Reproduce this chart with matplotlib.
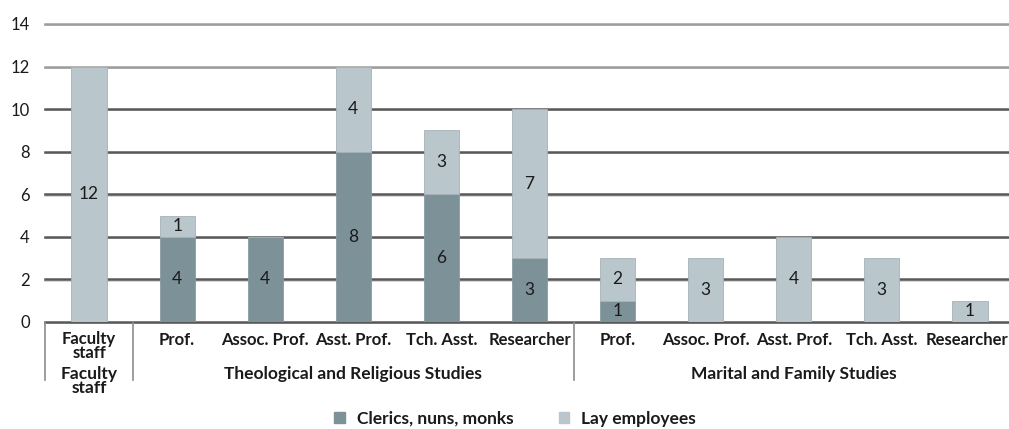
import numpy as np
import matplotlib
matplotlib.use("Agg")
import matplotlib.pyplot as plt
from matplotlib.transforms import blended_transform_factory
from matplotlib.patches import Patch

# categories and values
categories = ["Faculty\nstaff", "Prof.", "Assoc. Prof.", "Asst. Prof.", "Tch. Asst.", "Researcher",
              "Prof.", "Assoc. Prof.", "Asst. Prof.", "Tch. Asst.", "Researcher"]
groups = ["Faculty\nstaff", "Theological and Religious Studies", "Marital and Family Studies"]
group_spans = [(0, 0), (1, 5), (6, 10)]
clerics = [0, 4, 4, 8, 6, 3, 1, 0, 0, 0, 0]
lay = [12, 1, 0, 4, 3, 7, 2, 3, 4, 3, 1]
yticks = [0, 2, 4, 6, 8, 10, 12, 14]

c_cler = "#7d9199"
c_lay = "#b9c6cc"
font = "Lato"

plt.rcParams["font.family"] = [font, "DejaVu Sans"]
plt.rcParams["text.color"] = "#1a1a1a"

fig = plt.figure(figsize=(10.09, 4.29), dpi=100)
W, H = 1009, 429
ax = fig.add_axes([45 / W, 107 / H, 969 / W, 298 / H])

x = np.arange(len(categories))
ax.set_xlim(-0.5, 10.5)
ax.set_ylim(0, 14)

# gridlines (dark line with a light shadow below); the top two look lighter
for v in yticks:
    dark = "#9c9c9c" if v >= 12 else "#595959"
    ax.axhline(v - 0.06, color="#d0d0d0", lw=1.2, zorder=0, clip_on=False)
    ax.axhline(v, color=dark, lw=1.8, zorder=0.5, clip_on=False)

ax.bar(x, clerics, width=0.4, color=c_cler, edgecolor="#8a9ba2", lw=0.6, zorder=2)
ax.bar(x, lay, width=0.4, bottom=clerics, color=c_lay, edgecolor="#a6b3b9", lw=0.6, zorder=2)

for i in x:
    if clerics[i]:
        ax.text(i, clerics[i] / 2, str(clerics[i]), ha="center", va="center", fontsize=12.5, zorder=3)
    if lay[i]:
        ax.text(i, clerics[i] + lay[i] / 2, str(lay[i]), ha="center", va="center", fontsize=12.5, zorder=3)

ax.set_yticks(yticks)
ax.tick_params(axis="y", length=0, pad=11, labelsize=12, labelcolor="#1a1a1a")
ax.set_xticks([])
for s in ax.spines.values():
    s.set_visible(False)

# hierarchical category axis
tr = blended_transform_factory(ax.transData, fig.transFigure)
def fy(py):
    return 1 - py / H

for i, lab in enumerate(categories):
    yy = fy(346) if "\n" in lab else fy(340)
    if i == len(categories) - 1:
        # last label sits against the right edge of the picture
        fig.text(1008 / W, yy, lab, ha="right", va="center", fontsize=12, fontweight="bold")
        continue
    ax.text(i, yy, lab, transform=tr, ha="center", va="center", fontsize=12,
            fontweight="bold", linespacing=0.8)
for g, (a, b) in zip(groups, group_spans):
    yy = fy(381) if a == 0 else fy(374)
    ax.text((a + b) / 2, yy, g, transform=tr, ha="center", va="center", fontsize=12.5,
            fontweight="bold", linespacing=0.78)
for sx in [-0.5, 0.5, 5.5]:
    ax.plot([sx, sx], [fy(322), fy(380)], transform=tr, color="#8c8c8c", lw=1.2, clip_on=False)

handles = [Patch(color=c_cler, label="Clerics, nuns, monks"), Patch(color=c_lay, label="Lay employees")]
fig.legend(handles=handles, loc="center", bbox_to_anchor=(515 / W, fy(419)), ncol=2, frameon=False,
           prop={"weight": "bold", "size": 12.5}, handlelength=0.6, handleheight=0.6,
           columnspacing=2.6, handletextpad=0.7)

fig.savefig("out.png", dpi=100)
